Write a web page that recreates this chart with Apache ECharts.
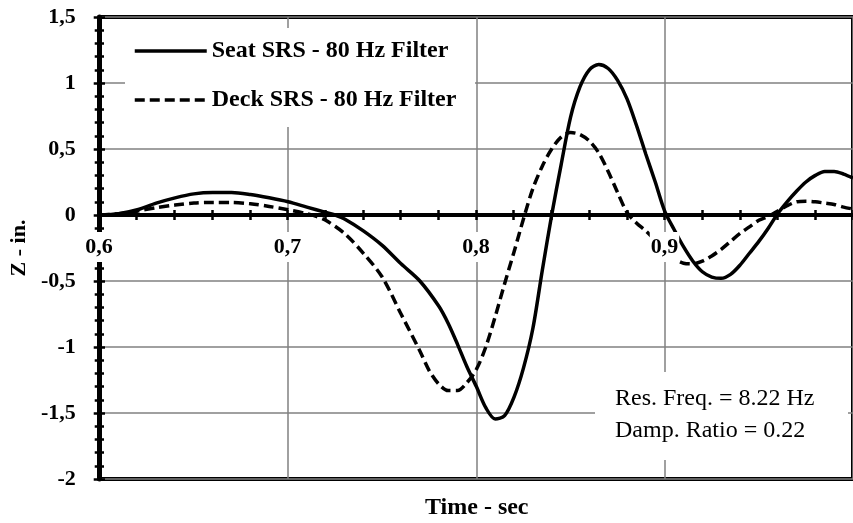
<!DOCTYPE html>
<html>
<head>
<meta charset="utf-8">
<script src="https://cdn.jsdelivr.net/npm/echarts@6/dist/echarts.min.js"></script>
<style>
  html, body { margin: 0; padding: 0; background: #fff; }
  #chart { width: 853px; height: 523px; }
</style>
</head>
<body>
<div id="chart"></div>
<script>
// seat response, 80 Hz filter
var seatTime = [0.600, 0.610, 0.620, 0.630, 0.640, 0.650, 0.660, 0.670, 0.680, 0.690,
  0.700, 0.710, 0.720, 0.725, 0.730, 0.740, 0.750, 0.760, 0.770, 0.780,
  0.785, 0.790, 0.795, 0.800, 0.805, 0.810, 0.815, 0.820, 0.825, 0.830, 0.835,
  0.840, 0.845, 0.850, 0.855, 0.860, 0.865, 0.870, 0.875, 0.880, 0.885,
  0.890, 0.895, 0.900, 0.905, 0.910, 0.915, 0.920, 0.925, 0.930, 0.935,
  0.940, 0.945, 0.950, 0.955, 0.960, 0.965, 0.970, 0.975, 0.980, 0.985,
  0.990, 0.995, 1.000];
var seatZ = [0, 0.01, 0.04, 0.09, 0.13, 0.16, 0.17, 0.17, 0.155, 0.13,
  0.10, 0.06, 0.02, 0.00, -0.03, -0.12, -0.23, -0.37, -0.50, -0.69,
  -0.82, -0.98, -1.15, -1.30, -1.46, -1.545, -1.52, -1.38, -1.16, -0.86, -0.42,
  0.0, 0.38, 0.74, 0.97, 1.10, 1.14, 1.11, 1.02, 0.88, 0.68,
  0.46, 0.25, 0.03, -0.11, -0.24, -0.35, -0.43, -0.47, -0.48, -0.45,
  -0.38, -0.29, -0.20, -0.10, 0.01, 0.10, 0.18, 0.25, 0.30, 0.33,
  0.33, 0.31, 0.28];

// deck response, 80 Hz filter
var deckTime = [0.600, 0.610, 0.620, 0.630, 0.640, 0.650, 0.660, 0.670, 0.680, 0.690,
  0.700, 0.710, 0.715, 0.720, 0.730, 0.740, 0.750, 0.760, 0.770, 0.775,
  0.780, 0.785, 0.790, 0.795, 0.800, 0.805, 0.810, 0.815, 0.820, 0.825,
  0.830, 0.835, 0.840, 0.845, 0.850, 0.855, 0.860, 0.865, 0.870, 0.875,
  0.880, 0.885, 0.890, 0.895, 0.900, 0.905, 0.910, 0.915, 0.920, 0.925,
  0.930, 0.935, 0.940, 0.945, 0.950, 0.955, 0.960, 0.965, 0.970, 0.975,
  0.980, 0.985, 0.990, 0.995, 1.000];
var deckZ = [0, 0.01, 0.03, 0.055, 0.075, 0.09, 0.095, 0.095, 0.085, 0.065,
  0.04, 0.01, -0.01, -0.04, -0.14, -0.29, -0.47, -0.75, -1.03, -1.18,
  -1.28, -1.33, -1.33, -1.27, -1.17, -1.00, -0.77, -0.52, -0.28, -0.03,
  0.20, 0.37, 0.50, 0.59, 0.625, 0.61, 0.56, 0.47, 0.33, 0.17,
  0.02, -0.06, -0.12, -0.19, -0.26, -0.33, -0.365, -0.37, -0.35, -0.31,
  -0.26, -0.20, -0.14, -0.09, -0.04, -0.01, 0.03, 0.07, 0.10, 0.105,
  0.10, 0.09, 0.08, 0.06, 0.045];

var seriesNames = ['Seat SRS - 80 Hz Filter', 'Deck SRS - 80 Hz Filter'];
var noteLines = ['Res. Freq. = 8.22 Hz', 'Damp. Ratio = 0.22'];
var xTitle = 'Time - sec';
var yTitle = 'Z - in.';

var FONT = '"Liberation Serif", "DejaVu Serif", serif';

function comma(v) {
    return String(+v.toFixed(2)).replace('.', ',');
}

var myChart = echarts.init(document.getElementById('chart'));

// full plot box, and the upper half that ends on the zero line
var mainBox = { left: 99, top: 17, right: -8, bottom: 44 };
var upperBox = { left: 99, top: 17, right: -8, bottom: 308 };

var tickLine = { color: '#000', width: 2.5 };

var option = {
    animation: false,
    grid: [
        Object.assign({ show: true, borderWidth: 4, borderColor: '#000', backgroundColor: 'transparent' }, mainBox),
        Object.assign({ show: false }, upperBox),
        Object.assign({ show: false }, upperBox),
        Object.assign({ show: false }, mainBox)
    ],
    xAxis: [
        {
            // grid lines only
            gridIndex: 0, type: 'value', min: 0.6, max: 1.0, interval: 0.1,
            axisLine: { show: false }, axisTick: { show: false }, axisLabel: { show: false },
            splitLine: { show: true, lineStyle: { color: '#808080', width: 1.5 } }
        },
        {
            // zero line with labels and ticks below
            gridIndex: 1, type: 'value', min: 0.6, max: 1.0, interval: 0.1, position: 'bottom', z: 10,
            axisLine: { onZero: false, lineStyle: { color: '#000', width: 4 } },
            axisTick: { show: true, inside: false, length: 5, lineStyle: tickLine },
            minorTick: { show: true, splitNumber: 5, length: 5, lineStyle: tickLine },
            splitLine: { show: false },
            axisLabel: {
                margin: 17, color: '#000', fontFamily: FONT, fontWeight: 'bold', fontSize: 22,
                backgroundColor: '#fff', padding: [4, 1, 4, 1],
                showMaxLabel: false, formatter: comma
            }
        },
        {
            // ticks above the zero line
            gridIndex: 2, type: 'value', min: 0.6, max: 1.0, interval: 0.1, position: 'bottom', z: 10,
            axisLine: { show: false, onZero: false },
            axisTick: { show: true, inside: true, length: 5, lineStyle: tickLine },
            minorTick: { show: true, splitNumber: 5, length: 5, lineStyle: tickLine },
            splitLine: { show: false }, axisLabel: { show: false }
        },
        { gridIndex: 3, type: 'value', min: 0.6, max: 1.0, show: false }
    ],
    yAxis: [
        {
            gridIndex: 0, type: 'value', min: -2, max: 1.5, interval: 0.5,
            name: yTitle, nameLocation: 'middle', nameGap: 63,
            nameTextStyle: { color: '#000', fontFamily: FONT, fontWeight: 'bold', fontSize: 22 },
            axisLine: { onZero: false, lineStyle: { color: '#000', width: 5 } },
            axisTick: { show: true, inside: false, length: 6, lineStyle: tickLine },
            minorTick: { show: true, splitNumber: 5, length: 5, lineStyle: tickLine },
            splitLine: { show: true, lineStyle: { color: '#808080', width: 1.5 } },
            axisLabel: {
                margin: 24, color: '#000', fontFamily: FONT, fontWeight: 'bold', fontSize: 22,
                formatter: comma
            }
        },
        { gridIndex: 1, type: 'value', min: 0, max: 1.5, show: false },
        { gridIndex: 2, type: 'value', min: 0, max: 1.5, show: false },
        {
            // ticks to the right of the y axis line
            gridIndex: 3, type: 'value', min: -2, max: 1.5, interval: 0.5,
            axisLine: { show: false, onZero: false },
            axisTick: { show: true, inside: true, length: 6, lineStyle: tickLine },
            minorTick: { show: true, splitNumber: 5, length: 5, lineStyle: tickLine },
            splitLine: { show: false }, axisLabel: { show: false }
        }
    ],
    legend: {
        data: seriesNames,
        orient: 'vertical',
        left: 125, top: 28,
        padding: [11, 10, 15, 8],
        itemWidth: 72, itemHeight: 4, itemGap: 25,
        z: 10,
        itemStyle: { opacity: 0 },
        lineStyle: { width: 3.5 },
        textStyle: { color: '#000', fontFamily: FONT, fontWeight: 'bold', fontSize: 24, lineHeight: 24 }
    },
    graphic: [
        // white boxes behind legend and note
        { type: 'rect', z: 5, shape: { x: 125, y: 28, width: 350, height: 99 }, style: { fill: '#fff' } },
        { type: 'rect', z: 5, shape: { x: 595, y: 372, width: 253, height: 88 }, style: { fill: '#fff' } },
        {
            type: 'text', z: 6, left: 615, top: 383,
            style: { text: noteLines.join('\n'), fill: '#000', font: '24px ' + FONT, lineHeight: 32 }
        },
        {
            type: 'text', z: 6, left: 425, top: 496,
            style: { text: xTitle, fill: '#000', font: 'bold 24px ' + FONT }
        }
    ],
    series: [
        {
            name: seriesNames[0], type: 'line', xAxisIndex: 0, yAxisIndex: 0,
            symbol: 'none', smooth: 0.3,
            lineStyle: { color: '#000', width: 3.5, type: 'solid' },
            itemStyle: { color: '#000' },
            data: seatTime.map(function (t, i) { return [t, seatZ[i]]; })
        },
        {
            name: seriesNames[1], type: 'line', xAxisIndex: 0, yAxisIndex: 0,
            symbol: 'none', smooth: 0.3,
            lineStyle: { color: '#000', width: 3.5, type: [10, 5] },
            itemStyle: { color: '#000' },
            data: deckTime.map(function (t, i) { return [t, deckZ[i]]; })
        }
    ]
};
myChart.setOption(option);
</script>
</body>
</html>
